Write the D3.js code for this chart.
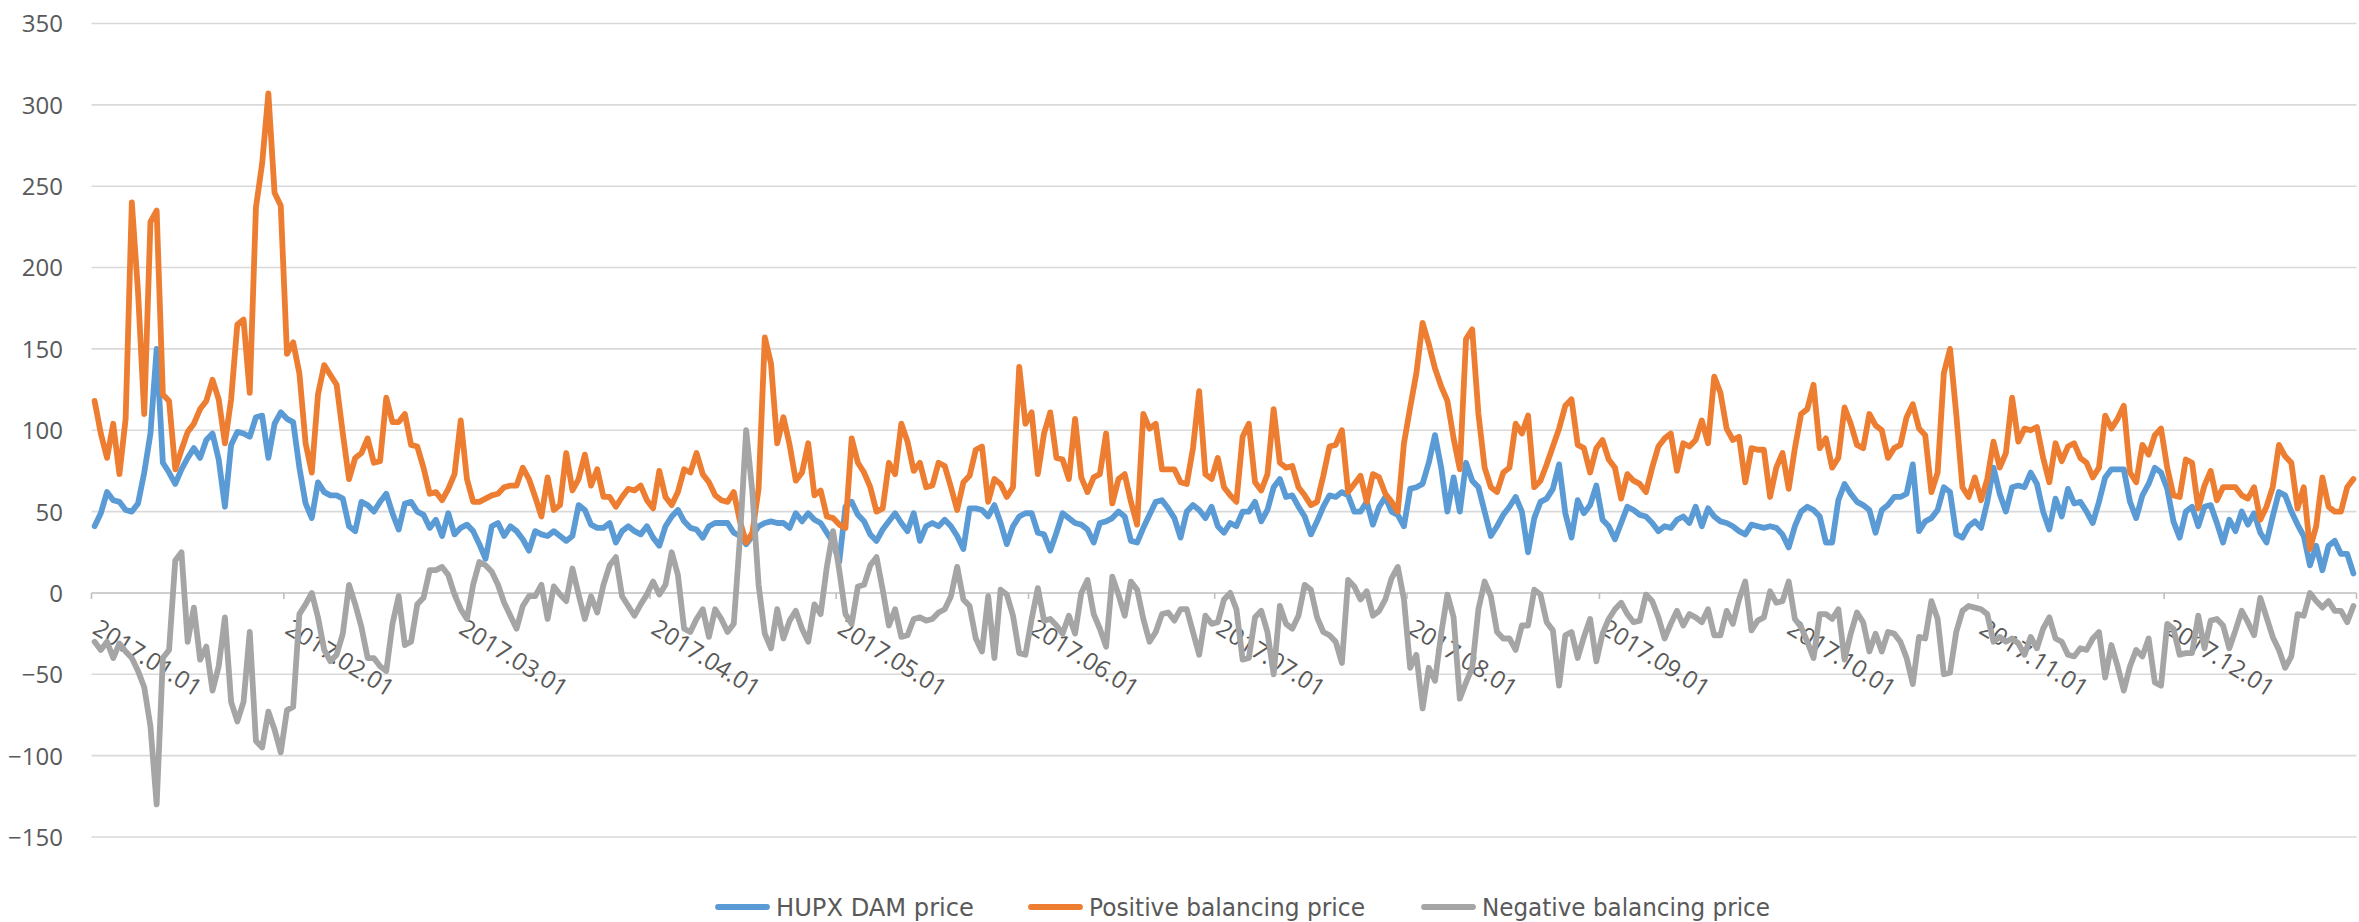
<!DOCTYPE html>
<html>
<head>
<meta charset="utf-8">
<script src="https://cdn.jsdelivr.net/npm/d3@7"></script>
<style>
  html, body { margin: 0; padding: 0; background: #fff; }
  svg { display: block; }
  .axis text { font-family: "Open Sans", sans-serif; font-size: 24px; fill: #595959; }
  .legend text { font-family: "Liberation Sans Narrow", "DejaVu Sans Condensed", "Open Sans", sans-serif; font-size: 24px; fill: #595959; }
</style>
</head>
<body>
<svg id="chart" width="2359" height="922"></svg>
<script>
// daily prices 2017
var seriesNames = ['HUPX DAM price', 'Positive balancing price', 'Negative balancing price'];
var seriesColors = ['#5b9bd5', '#ed7d31', '#a5a5a5'];

var hupxDam = [
  41, 49, 62, 57, 56, 51, 50, 55, 74, 98,
  150, 80, 74, 67, 76, 83, 89, 83, 94, 98,
  82, 53, 91, 99, 98, 96, 108, 109, 83, 104,
  111, 107, 105, 77, 55, 46, 68, 62, 60, 60,
  58, 41, 38, 56, 54, 50, 56, 61, 49, 39,
  55, 56, 50, 48, 40, 45, 35, 49, 36, 40,
  42, 38, 30, 21, 41, 43, 35, 41, 38, 33,
  26, 38, 36, 35, 38, 35, 32, 35, 54, 51,
  42, 40, 40, 43, 31, 38, 41, 38, 36, 41,
  34, 29, 41, 47, 51, 44, 40, 39, 34, 41,
  43, 43, 43, 37, 35, 30, 35, 41, 43, 44,
  43, 43, 40, 49, 44, 49, 45, 43, 37, 31,
  19, 53, 56, 48, 44, 36, 32, 39, 44, 49,
  43, 38, 49, 32, 41, 43, 41, 45, 41, 35,
  27, 52, 52, 51, 47, 54, 43, 30, 41, 47,
  49, 49, 37, 36, 26, 37, 49, 46, 43, 42,
  39, 31, 43, 44, 46, 50, 47, 32, 31, 40,
  48, 56, 57, 52, 46, 34, 50, 54, 51, 46,
  53, 41, 37, 43, 41, 50, 50, 56, 44, 51,
  65, 70, 59, 60, 53, 47, 36, 44, 53, 60,
  59, 62, 60, 50, 50, 56, 42, 53, 59, 50,
  48, 41, 64, 65, 67, 80, 97, 77, 50, 71,
  50, 80, 69, 65, 50, 35, 41, 48, 53, 59,
  50, 25, 46, 56, 58, 64, 79, 49, 34, 57,
  49, 54, 66, 45, 41, 33, 43, 53, 51, 48,
  47, 43, 38, 41, 40, 45, 47, 43, 53, 41,
  52, 47, 44, 43, 41, 38, 36, 42, 41, 40,
  41, 40, 36, 28, 41, 50, 53, 51, 47, 31,
  31, 57, 67, 61, 56, 54, 51, 37, 51, 54,
  59, 59, 61, 79, 38, 44, 46, 51, 65, 62,
  36, 34, 41, 44, 40, 56, 77, 61, 50, 65,
  66, 65, 74, 67, 50, 39, 58, 47, 64, 55,
  56, 50, 43, 56, 71, 76, 76, 76, 56, 46,
  60, 67, 77, 74, 64, 44, 34, 50, 53, 41,
  53, 54, 43, 31, 45, 38, 50, 42, 49, 37,
  31, 47, 62, 60, 50, 42, 35, 17, 29, 14,
  29, 32, 24, 24, 12
];

var positiveBalancing = [
  118, 98, 83, 104, 73, 107, 240, 185, 110, 228,
  235, 122, 118, 76, 88, 99, 104, 113, 118, 131,
  119, 92, 119, 165, 168, 123, 237, 264, 307, 246,
  238, 147, 154, 135, 92, 74, 122, 140, 134, 128,
  98, 70, 83, 86, 95, 80, 81, 120, 105, 105,
  110, 91, 90, 77, 61, 62, 57, 64, 73, 106,
  70, 56, 56, 58, 60, 61, 65, 66, 66, 77,
  70, 59, 47, 71, 51, 54, 86, 63, 70, 85,
  66, 76, 59, 59, 53, 59, 64, 63, 66, 57,
  52, 75, 59, 54, 62, 76, 74, 86, 73, 68,
  60, 57, 56, 62, 44, 31, 37, 64, 157, 141,
  92, 108, 91, 69, 74, 92, 60, 63, 47, 46,
  42, 40, 95, 80, 74, 65, 50, 52, 80, 73,
  104, 93, 75, 80, 65, 66, 80, 78, 65, 51,
  68, 72, 88, 90, 56, 70, 67, 59, 65, 139,
  104, 111, 73, 98, 111, 83, 82, 70, 107, 71,
  62, 71, 73, 98, 55, 70, 73, 56, 42, 110,
  101, 104, 76, 76, 76, 68, 67, 89, 124, 73,
  70, 83, 65, 60, 56, 96, 104, 68, 63, 73,
  113, 80, 77, 78, 65, 60, 54, 56, 72, 90,
  91, 100, 62, 67, 72, 56, 73, 71, 61, 56,
  50, 92, 114, 135, 166, 153, 138, 127, 118, 95,
  76, 156, 162, 110, 77, 65, 62, 74, 77, 104,
  98, 109, 65, 69, 79, 90, 101, 115, 119, 91,
  89, 74, 89, 94, 82, 77, 58, 73, 69, 67,
  62, 77, 90, 95, 98, 75, 92, 90, 94, 106,
  92, 133, 123, 101, 94, 96, 68, 89, 88, 88,
  59, 77, 86, 64, 89, 110, 113, 128, 89, 95,
  77, 83, 114, 104, 91, 89, 110, 103, 100, 83,
  89, 91, 108, 116, 101, 97, 62, 74, 135, 150,
  110, 65, 59, 71, 57, 70, 93, 77, 86, 120,
  93, 101, 100, 102, 83, 68, 92, 81, 90, 92,
  83, 80, 71, 77, 109, 101, 107, 115, 74, 68,
  91, 85, 97, 101, 77, 60, 59, 82, 80, 52,
  66, 75, 57, 65, 65, 65, 60, 58, 65, 45,
  53, 65, 91, 84, 80, 52, 65, 27, 41, 71,
  53, 50, 50, 65, 70
];

var negativeBalancing = [
  -30, -35, -30, -40, -31, -36, -40, -48, -58, -82,
  -130, -40, -35, 20, 25, -30, -9, -41, -33, -60,
  -45, -15, -67, -79, -67, -24, -91, -95, -73, -84,
  -98, -72, -70, -13, -7, 0, -15, -35, -42, -38,
  -25, 5, -7, -21, -40, -40, -45, -48, -19, -2,
  -32, -30, -7, -3, 14, 14, 16, 11, -1, -10,
  -16, 5, 19, 17, 13, 5, -6, -14, -22, -8,
  -2, -2, 5, -16, 4, -1, -5, 15, -1, -16,
  -2, -12, 5, 17, 22, -2, -8, -14, -7, -1,
  7, -1, 5, 25, 11, -22, -24, -16, -10, -27,
  -10, -16, -24, -19, 34, 100, 62, 5, -25, -34,
  -10, -28, -17, -11, -22, -30, -7, -13, 16, 38,
  14, -13, -19, 4, 5, 17, 22, 2, -20, -10,
  -27, -26, -16, -15, -17, -16, -12, -10, -2, 16,
  -4, -8, -28, -36, -2, -40, 2, -1, -14, -37,
  -38, -16, 3, -17, -16, -20, -25, -14, -25, 0,
  8, -13, -22, -33, 10, -1, -14, 7, 2, -16,
  -30, -24, -13, -12, -17, -10, -10, -24, -38, -14,
  -19, -18, -4, 0, -10, -41, -40, -15, -11, -24,
  -50, -8, -19, -22, -14, 5, 2, -15, -24, -26,
  -30, -43, 8, 4, -4, 1, -14, -11, -4, 9,
  16, -4, -46, -38, -71, -46, -54, -25, -1, -15,
  -65, -55, -46, -10, 7, -2, -24, -28, -28, -35,
  -20, -20, 2, -1, -18, -23, -57, -26, -24, -40,
  -27, -16, -42, -25, -16, -10, -6, -13, -18, -17,
  -1, -5, -15, -28, -19, -11, -20, -13, -15, -18,
  -10, -26, -26, -11, -19, -4, 7, -23, -17, -15,
  1, -6, -5, 7, -16, -21, -30, -40, -13, -13,
  -16, -10, -41, -25, -12, -18, -36, -25, -36, -24,
  -25, -30, -40, -56, -27, -28, -5, -16, -50, -49,
  -24, -11, -8, -9, -10, -13, -30, -27, -30, -28,
  -31, -38, -27, -34, -22, -15, -28, -30, -38, -39,
  -34, -35, -28, -24, -52, -32, -45, -60, -45, -35,
  -39, -28, -55, -57, -19, -22, -38, -37, -37, -14,
  -34, -17, -16, -20, -34, -23, -11, -18, -26, -3,
  -15, -27, -35, -46, -39, -13, -14, 0, -5, -9,
  -5, -11, -11, -18, -8
];

var yTicks = [-150, -100, -50, 0, 50, 100, 150, 200, 250, 300, 350];
var monthLabels = ['2017.01.01', '2017.02.01', '2017.03.01', '2017.04.01', '2017.05.01', '2017.06.01',
  '2017.07.01', '2017.08.01', '2017.09.01', '2017.10.01', '2017.11.01', '2017.12.01'];

(function() {
  var svg = d3.select('#chart');
  var parse = d3.timeParse('%Y.%m.%d');

  var start = new Date(2017, 0, 1);
  var end = new Date(2018, 0, 1);
  var days = d3.timeDay.range(start, end);

  var left = 91.5, right = 2356.5;

  var x = d3.scaleTime()
    .domain([start, end])
    .range([left, right]);

  var y = d3.scaleLinear()
    .domain([-150, 350])
    .range([837, 23.5]);

  // horizontal gridlines
  svg.append('g')
    .attr('class', 'grid')
    .selectAll('line')
    .data(yTicks)
    .enter()
    .append('line')
    .attr('x1', left)
    .attr('x2', right)
    .attr('y1', function(d) { return y(d); })
    .attr('y2', function(d) { return y(d); })
    .attr('stroke', function(d) { return d === 0 ? '#bfbfbf' : '#d9d9d9'; })
    .attr('stroke-width', 1.6);

  // y labels
  var yAxis = d3.axisLeft(y)
    .tickValues(yTicks)
    .tickSize(0)
    .tickPadding(0);

  var gy = svg.append('g')
    .attr('class', 'axis axis--y')
    .attr('transform', 'translate(63, 0)')
    .call(yAxis);
  gy.select('.domain').remove();
  gy.selectAll('text').attr('dy', '0.35em');

  // x axis: month ticks on the zero line
  var monthTicks = monthLabels.map(parse).concat([end]);

  var gx = svg.append('g')
    .attr('class', 'axis axis--x')
    .attr('transform', 'translate(0, ' + y(0) + ')');

  gx.selectAll('line')
    .data(monthTicks)
    .enter()
    .append('line')
    .attr('x1', function(d) { return x(d); })
    .attr('x2', function(d) { return x(d); })
    .attr('y1', 0)
    .attr('y2', 6)
    .attr('stroke', '#bfbfbf')
    .attr('stroke-width', 1.6);

  // lines: blue, orange, grey on top
  var series = [hupxDam, positiveBalancing, negativeBalancing];

  var line = d3.line()
    .x(function(d, i) { return x(d3.timeHour.offset(days[i], 12)); })
    .y(function(d) { return y(d); });

  svg.append('g')
    .attr('class', 'lines')
    .selectAll('path')
    .data(series)
    .enter()
    .append('path')
    .attr('d', function(d) { return line(d.slice(0, days.length)); })
    .attr('fill', 'none')
    .attr('stroke', function(d, i) { return seriesColors[i]; })
    .attr('stroke-width', 5.8)
    .attr('stroke-linejoin', 'round')
    .attr('stroke-linecap', 'round');

  // rotated date labels, drawn after the lines as in the original
  gx.selectAll('text')
    .data(monthLabels)
    .enter()
    .append('text')
    .attr('transform', function(d) {
      return 'translate(' + (x(parse(d)) + 9) + ', 25) rotate(32)';
    })
    .attr('dy', '0.72em')
    .attr('text-anchor', 'start')
    .text(function(d) { return d; });

  // legend
  var legendItems = [
    { x: 715, width: 198 },
    { x: 1028, width: 276 },
    { x: 1421, width: 288 }
  ];

  var legend = svg.append('g')
    .attr('class', 'legend')
    .attr('transform', 'translate(0, 907)');

  var item = legend.selectAll('g')
    .data(seriesNames)
    .enter()
    .append('g')
    .attr('transform', function(d, i) { return 'translate(' + legendItems[i].x + ', 0)'; });

  item.append('line')
    .attr('x1', 3)
    .attr('x2', 52)
    .attr('stroke', function(d, i) { return seriesColors[i]; })
    .attr('stroke-width', 5.8)
    .attr('stroke-linecap', 'round');

  item.append('text')
    .attr('x', 61)
    .attr('y', 8.5)
    .attr('textLength', function(d, i) { return legendItems[i].width; })
    .attr('lengthAdjust', 'spacingAndGlyphs')
    .text(function(d) { return d; });
})();
</script>
</body>
</html>
